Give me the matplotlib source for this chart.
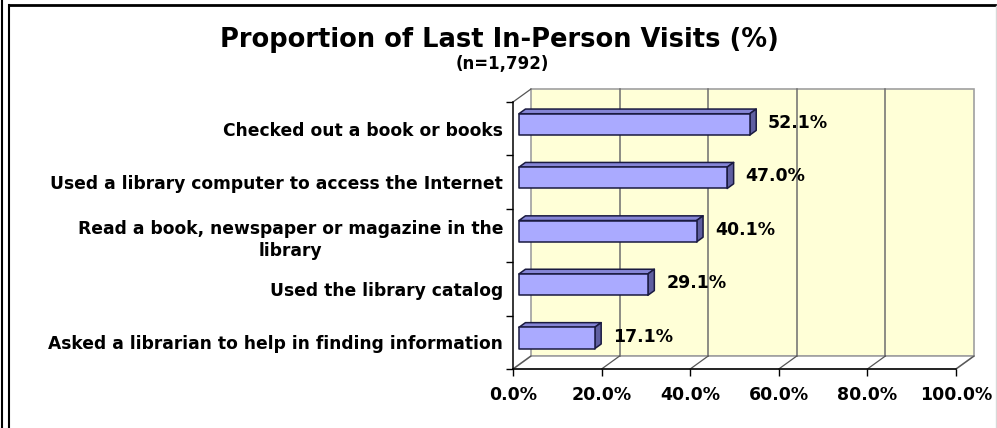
import matplotlib
matplotlib.use('Agg')
import matplotlib.pyplot as plt
from matplotlib.patches import Polygon
from matplotlib.lines import Line2D
import numpy as np

# data
categories = ['Checked out a book or books',
              'Used a library computer to access the Internet',
              'Read a book, newspaper or magazine in the\nlibrary',
              'Used the library catalog',
              'Asked a librarian to help in finding information']
values = [52.1, 47.0, 40.1, 29.1, 17.1]
x_ticks = [0, 20, 40, 60, 80, 100]
x_tick_labels = ['0.0%', '20.0%', '40.0%', '60.0%', '80.0%', '100.0%']
title = 'Proportion of Last In-Person Visits (%)'
subtitle = '(n=1,792)'

plt.rcParams['font.family'] = ['DejaVu Sans']

W, H = 997, 428
fig = plt.figure(figsize=(W / 100, H / 100), dpi=100)
fig.patch.set_facecolor('white')

# front plane of the 3d-ish chart, in pixels
ax_l, ax_r, ax_t, ax_b = 513, 956, 102, 369
ax = fig.add_axes([ax_l / W, (H - ax_b) / H, (ax_r - ax_l) / W, (ax_b - ax_t) / H])
ax.set_xlim(0, 100)
ax.set_ylim(-0.5, len(categories) - 0.5)
ax.patch.set_visible(False)

# depth of the wall, converted to data units
DX = 18 / (ax_r - ax_l) * 100
DY = 13 / (ax_b - ax_t) * len(categories)

def pt(x, y, d):
    return (x + d * DX, y + d * DY)

y0, y1 = -0.5, len(categories) - 0.5
grid_col = '#6e6e6e'
wall_col = '#ffffd7'

# back wall
ax.add_patch(Polygon([pt(0, y0, 1), pt(100, y0, 1), pt(100, y1, 1), pt(0, y1, 1)],
                     closed=True, facecolor=wall_col, edgecolor='#a0a0a0', lw=1.2,
                     clip_on=False, zorder=0))
for t in x_ticks[1:-1]:
    ax.plot(*zip(pt(t, y0, 1), pt(t, y1, 1)), color=grid_col, lw=1.1, clip_on=False, zorder=1)

# floor and side wall
ax.add_patch(Polygon([pt(0, y0, 0), pt(100, y0, 0), pt(100, y0, 1), pt(0, y0, 1)],
                     closed=True, facecolor='white', edgecolor='#a0a0a0', lw=1.2,
                     clip_on=False, zorder=0.5))
for t in x_ticks:
    ax.plot(*zip(pt(t, y0, 0), pt(t, y0, 1)), color='#555555', lw=0.9, clip_on=False, zorder=1)
ax.plot(*zip(pt(0, y1, 0), pt(0, y1, 1)), color='#555555', lw=0.9, clip_on=False, zorder=1)

# bars
ypos = np.arange(len(categories))[::-1]
h = 0.40
f1, f2 = 0.33, 0.69
for v, c in zip(values, ypos):
    lo, hi = c - h / 2, c + h / 2
    front = [pt(0, lo, f1), pt(v, lo, f1), pt(v, hi, f1), pt(0, hi, f1)]
    top = [pt(0, hi, f1), pt(v, hi, f1), pt(v, hi, f2), pt(0, hi, f2)]
    side = [pt(v, lo, f1), pt(v, lo, f2), pt(v, hi, f2), pt(v, hi, f1)]
    for poly, col in [(top, '#8585d6'), (side, '#5f5fa0'), (front, '#aaaaff')]:
        ax.add_patch(Polygon(poly, closed=True, facecolor=col, edgecolor='#1a1a40',
                             lw=1.1, clip_on=False, zorder=3, joinstyle='round'))
    ax.annotate(f'{v:.1f}%', xy=(v, c), xytext=(17.5, 0.5), textcoords='offset points',
                ha='left', va='baseline', fontsize=12.5, fontweight='bold', zorder=4)

# axes
for s in ['top', 'right']:
    ax.spines[s].set_visible(False)
for s in ['left', 'bottom']:
    ax.spines[s].set_color('black')
    ax.spines[s].set_linewidth(1.1)

ax.set_xticks(x_ticks)
ax.set_xticklabels(x_tick_labels, fontsize=12.5, fontweight='bold')
ax.tick_params(axis='x', length=5, width=1, direction='out', pad=7.5)

ax.set_yticks(ypos)
ax.set_yticklabels(categories, fontsize=12.3, fontweight='bold',
                   multialignment='center', linespacing=1.3)
ax.tick_params(axis='y', which='major', length=0, pad=7)
ax.set_yticks(np.arange(len(categories) + 1) - 0.5, minor=True)
ax.tick_params(axis='y', which='minor', length=5, width=1, direction='out')

# titles
fig.text(499 / W, 1 - 46.7 / H, title, ha='center', va='baseline',
         fontsize=18.5, fontweight='bold')
fig.text(502 / W, 1 - 69 / H, subtitle, ha='center', va='baseline',
         fontsize=12, fontweight='bold')

# frame around the picture
fig.add_artist(Line2D([1.5 / W, 1.5 / W], [0, 1], color='black', lw=1.5))
fig.add_artist(Line2D([9 / W, 9 / W], [0, 1 - 4.5 / H], color='black', lw=1.5))
fig.add_artist(Line2D([9 / W, 995 / W], [1 - 4.5 / H, 1 - 4.5 / H], color='black', lw=2))
fig.add_artist(Line2D([995.5 / W, 995.5 / W], [0, 1 - 6 / H], color='#d8d8d8', lw=1))

fig.savefig('out.png', dpi=100)
